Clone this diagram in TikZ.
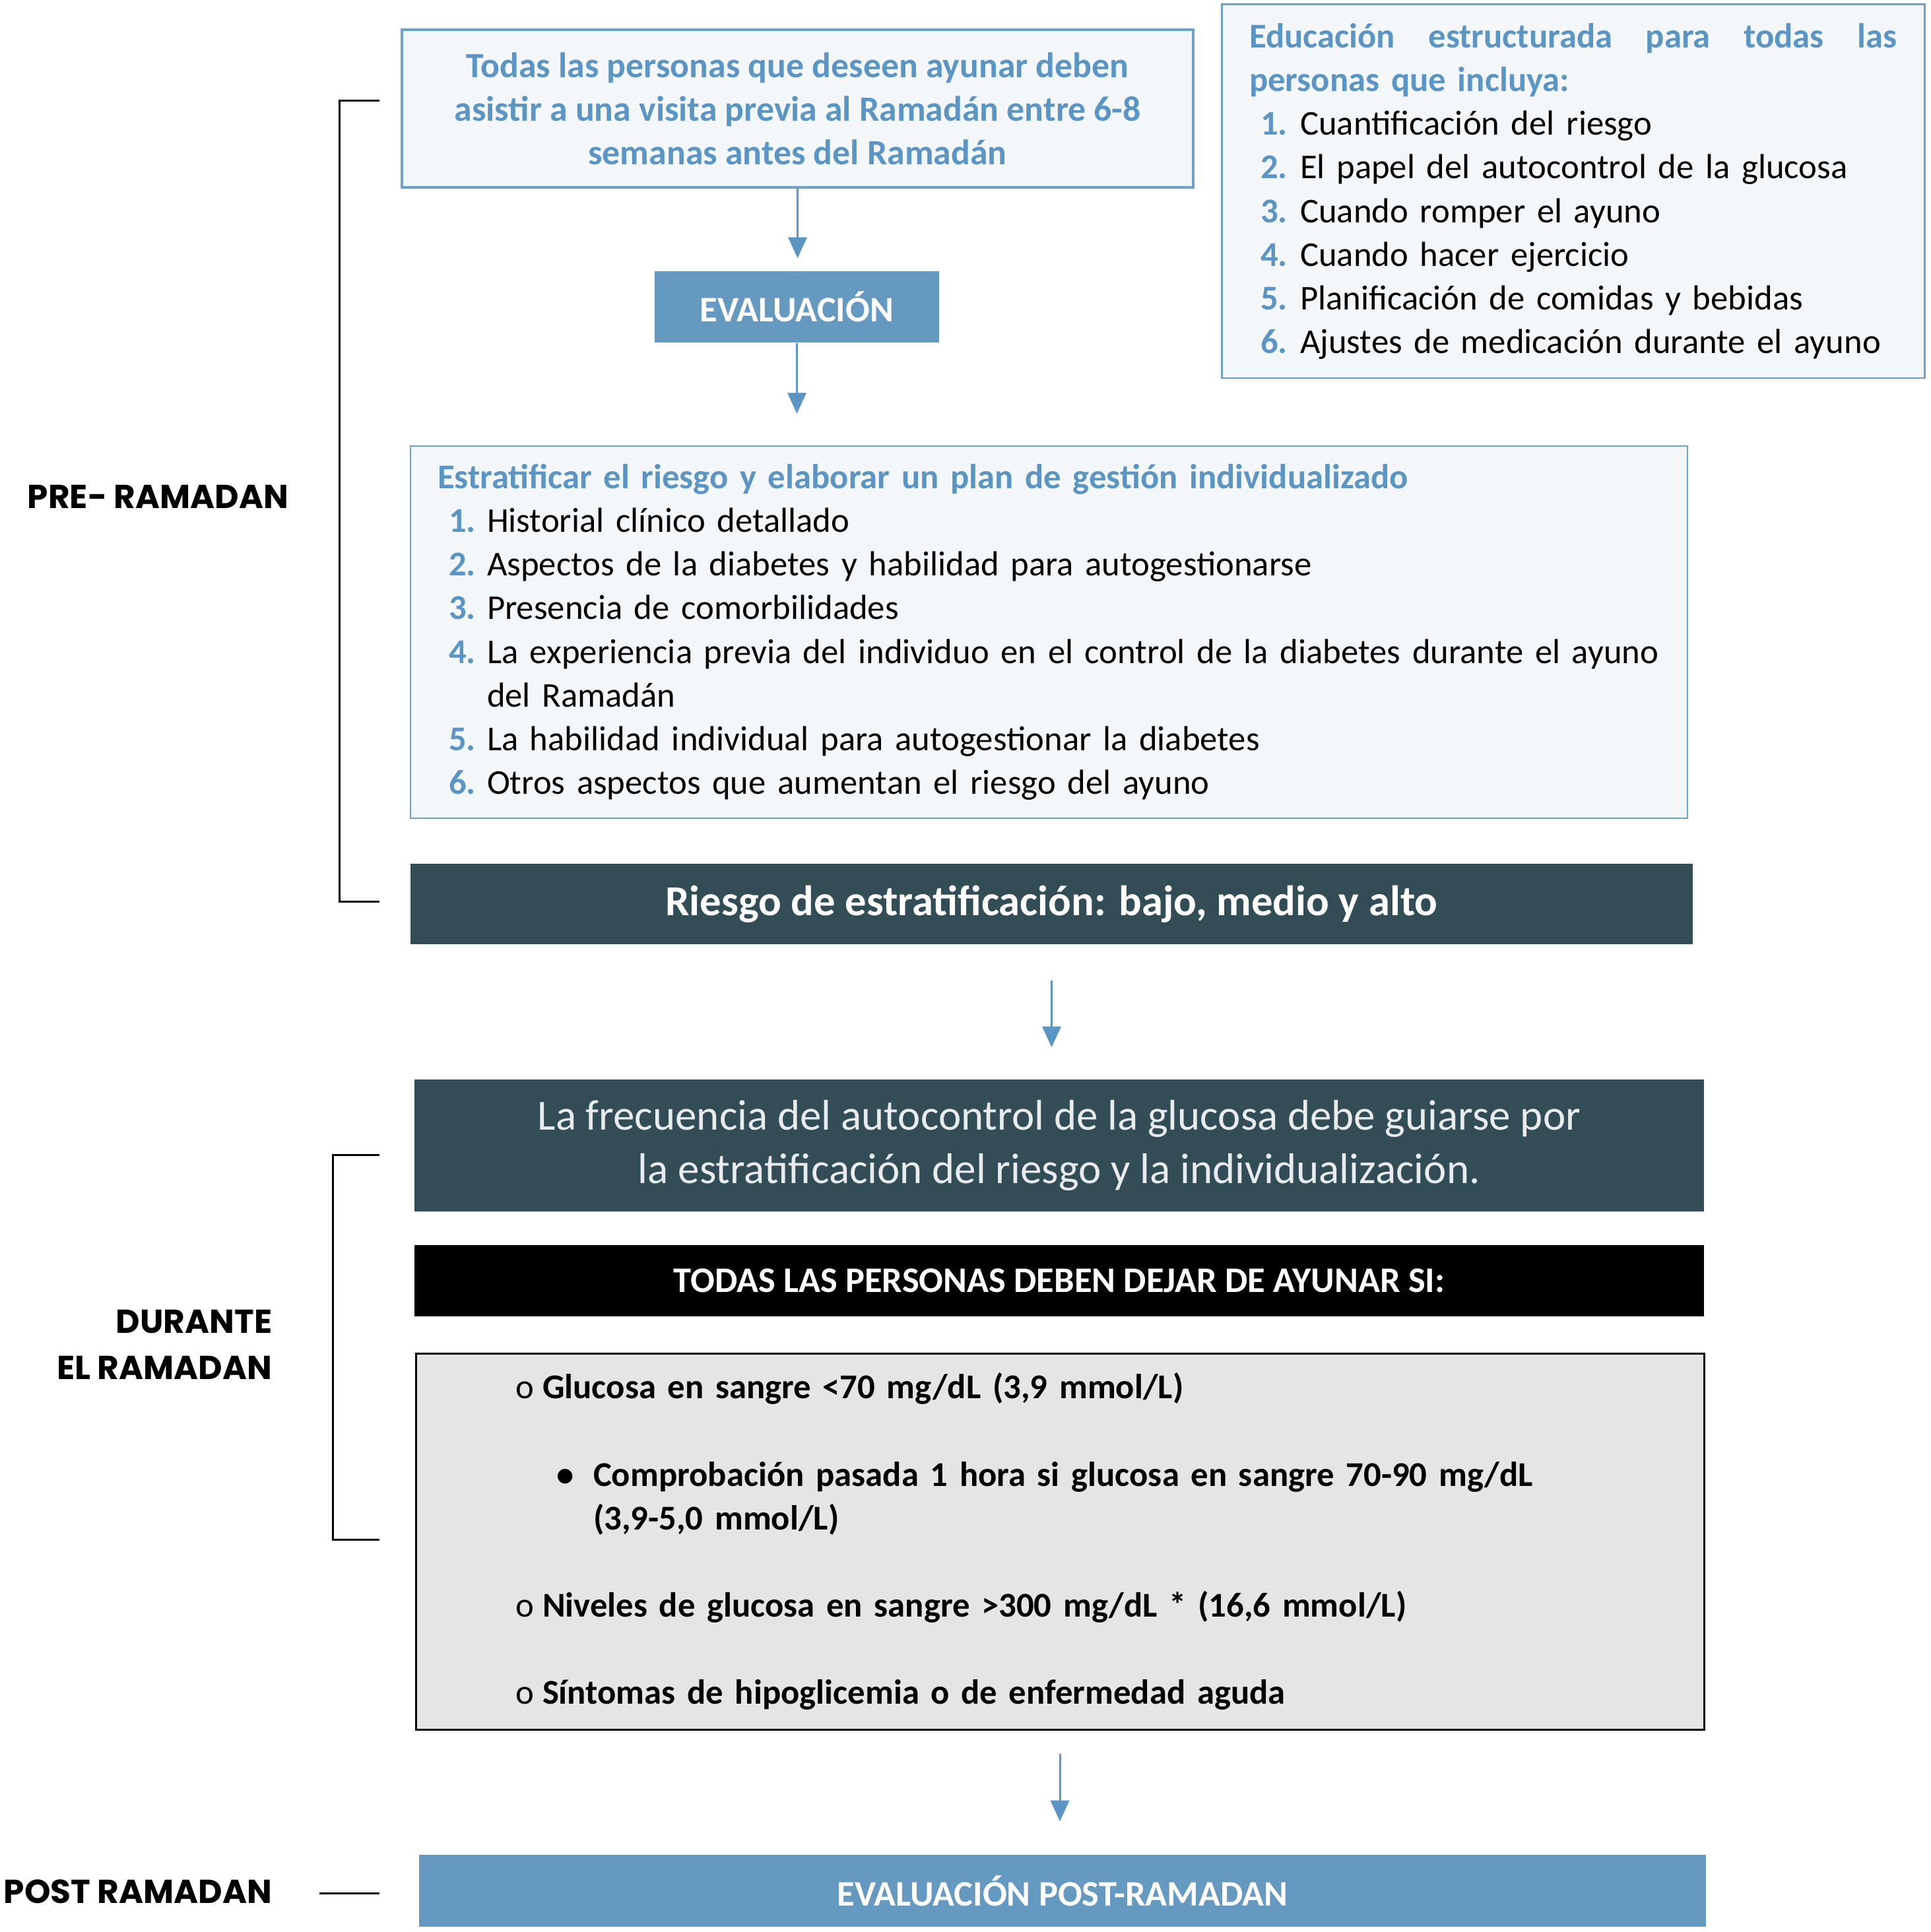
\documentclass[tikz,border=0pt]{standalone}
\usepackage{fontspec}
\setmainfont{Carlito}
\newfontfamily\sidefont{Poppins}
\usepackage{tikz}
\usetikzlibrary{arrows.meta, positioning, calc}
\definecolor{boxblue}{HTML}{6699BF}
\definecolor{textblue}{HTML}{5B95C3}
\definecolor{lineblue}{HTML}{6FA0C8}
\definecolor{paleblue}{HTML}{F4F7FA}
\definecolor{slate}{HTML}{334D56}
\definecolor{panelgray}{HTML}{E6E5E6}
\definecolor{frostwhite}{HTML}{E8ECEE}
\newcommand{\itm}[2]{\makebox[#2][l]{\textcolor{textblue}{\bfseries #1.}}}

\begin{document}
\begin{tikzpicture}[
  bodyfont/.style={font=\fontsize{15}{18.8}\selectfont},
  listbox/.style={draw=lineblue, line width=0.85pt, fill=paleblue,
    inner xsep=0.41cm, inner ysep=0pt, align=left, bodyfont},
  darkbox/.style={fill=slate, text=white, inner sep=0pt, align=center},
  bluebox/.style={fill=boxblue, text=white, inner sep=0pt,
    font=\fontsize{15.5}{18.8}\selectfont\bfseries},
  flowarrow/.style={draw=textblue, line width=0.85pt,
    -{Triangle[length=9pt,width=8pt]}},
  bracket/.style={draw=black, line width=0.85pt},
  phase/.style={inner sep=0pt, font=\sidefont\fontsize{14.3}{20}\selectfont\bfseries}
]
  \useasboundingbox (0,0) rectangle (29.25,-29.28);

  %% PRE-RAMADAN
  \node[draw=lineblue, line width=1.1pt, fill=paleblue, align=center,
    minimum width=11.99cm, minimum height=2.39cm, inner sep=0pt,
    text=textblue, font=\fontsize{15.3}{18.8}\selectfont\bfseries]
    (visit) at (12.085,-1.645)
    {Todas las personas que deseen ayunar deben\\
     asistir a una visita previa al Ramadán entre 6-8\\
     semanas antes del Ramadán};

  \node[bluebox, minimum width=4.31cm, minimum height=1.08cm]
    (eval) at (12.075,-4.65) {EVALUACIÓN};

  % Education list (top right)
  \node[listbox, minimum width=10.65cm, minimum height=5.66cm,
    text width=9.81cm] (edu) at (23.835,-2.90)
    {\textcolor{textblue}{\bfseries\hbox to 9.81cm{Educación\hfill estructurada\hfill para\hfill todas\hfill las}}\\
     \textcolor{textblue}{\bfseries personas que incluya:}\\
     \hspace*{0.17cm}\itm{1}{0.60cm}Cuantificación del riesgo\\
     \hspace*{0.17cm}\itm{2}{0.60cm}El papel del autocontrol de la glucosa\\
     \hspace*{0.17cm}\itm{3}{0.60cm}Cuando romper el ayuno\\
     \hspace*{0.17cm}\itm{4}{0.60cm}Cuando hacer ejercicio\\
     \hspace*{0.17cm}\itm{5}{0.60cm}Planificación de comidas y bebidas\\
     \hspace*{0.17cm}\itm{6}{0.60cm}Ajustes de medicación durante el ayuno};

  % Risk stratification list
  \node[listbox, line width=0.6pt, minimum width=19.35cm, minimum height=5.64cm,
    text width=18.53cm] (strat) at (15.895,-9.58)
    {\textcolor{textblue}{\bfseries Estratificar el riesgo y elaborar un plan de gestión individualizado}\\
     \hspace*{0.17cm}\itm{1}{0.58cm}Historial clínico detallado\\
     \hspace*{0.17cm}\itm{2}{0.58cm}Aspectos de la diabetes y habilidad para autogestionarse\\
     \hspace*{0.17cm}\itm{3}{0.58cm}Presencia de comorbilidades\\
     \hspace*{0.17cm}\itm{4}{0.58cm}\mbox{La experiencia previa del individuo en el control de la diabetes durante el ayuno}\\
     \hspace*{0.75cm}del Ramadán\\
     \hspace*{0.17cm}\itm{5}{0.58cm}La habilidad individual para autogestionar la diabetes\\
     \hspace*{0.17cm}\itm{6}{0.58cm}Otros aspectos que aumentan el riesgo del ayuno};

  \node[darkbox, minimum width=19.43cm, minimum height=1.22cm,
    font=\fontsize{18.4}{20}\selectfont\bfseries]
    (risk) at (15.935,-13.70) {Riesgo de estratificación: bajo, medio y alto};

  %% DURANTE EL RAMADAN
  \node[darkbox, minimum width=19.54cm, minimum height=2.00cm, text=frostwhite,
    font=\fontsize{18.5}{22.8}\selectfont]
    (freq) at (16.05,-17.36)
    {La frecuencia del autocontrol de la glucosa debe guiarse por\\
     la estratificación del riesgo y la individualización.};

  \node[fill=black, text=white, inner sep=0pt, minimum width=19.54cm,
    minimum height=1.08cm, font=\fontsize{15.5}{18}\selectfont\bfseries]
    (stop) at (16.05,-19.41) {TODAS LAS PERSONAS DEBEN DEJAR DE AYUNAR SI:};

  \node[draw=black, line width=0.85pt, fill=panelgray, inner sep=0pt,
    minimum width=19.52cm, minimum height=5.70cm, text width=16.50cm,
    align=left, font=\fontsize{15}{18.8}\selectfont\bfseries]
    (limits) at (16.06,-23.36)
    {\makebox[0.41cm][l]{\mdseries o}Glucosa en sangre <70 mg/dL (3,9 mmol/L)\\[18.8pt]
     \hspace*{0.62cm}\makebox[0.56cm][l]{•}Comprobación pasada 1 hora si glucosa en sangre 70-90 mg/dL\\
     \hspace*{1.18cm}(3,9-5,0 mmol/L)\\[18.8pt]
     \makebox[0.41cm][l]{\mdseries o}Niveles de glucosa en sangre >300 mg/dL * (16,6 mmol/L)\\[18.8pt]
     \makebox[0.41cm][l]{\mdseries o}Síntomas de hipoglicemia o de enfermedad aguda};

  %% POST RAMADAN
  \node[bluebox, minimum width=19.50cm, minimum height=1.09cm]
    (post) at (16.10,-28.655) {EVALUACIÓN POST-RAMADAN};

  % Arrows
  \draw[flowarrow, shorten >=0.19cm] (visit.south) -- (visit.south |- eval.north);
  \draw[flowarrow, shorten >=0.48cm] (eval.south) -- (eval.south |- strat.north);
  \draw[flowarrow, shorten <=0.54cm, shorten >=0.48cm] (risk.south) -- (risk.south |- freq.north);
  \draw[flowarrow, shorten <=0.35cm, shorten >=0.50cm] (limits.south) -- (limits.south |- post.north);

  % Phase brackets
  \draw[bracket] (5.75,-1.53) -- (5.14,-1.53) -- (5.14,-13.66) -- (5.75,-13.66);
  \draw[bracket] (5.75,-17.50) -- (5.04,-17.50) -- (5.04,-23.33) -- (5.75,-23.33);
  \draw[bracket] (4.84,-28.69) -- (5.75,-28.69);

  % Phase labels
  \node[phase, anchor=west] (pre) at (0.41,-7.53) {PRE- RAMADAN};
  \node[phase, anchor=east, align=right] (during) at (4.13,-20.375)
    {DURANTE\\EL RAMADAN};
  \node[phase, anchor=east] (after) at (4.13,-28.67) {POST RAMADAN};
\end{tikzpicture}
\end{document}
